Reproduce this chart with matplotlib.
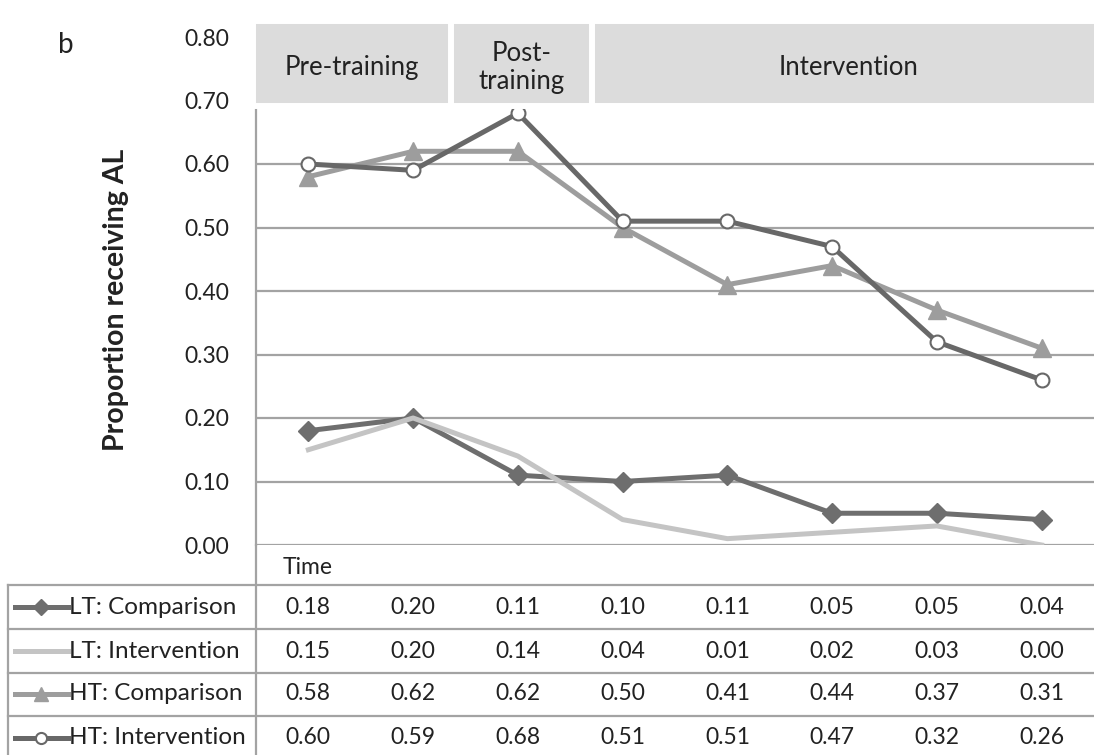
import matplotlib
matplotlib.use("Agg")
import matplotlib.pyplot as plt
import matplotlib.transforms as mtransforms
from matplotlib.lines import Line2D
from matplotlib.patches import Rectangle

plt.rcParams['font.family'] = ['Lato', 'DejaVu Sans']

time_points = list(range(8))
lt_comparison = [0.18, 0.20, 0.11, 0.10, 0.11, 0.05, 0.05, 0.04]
lt_intervention = [0.15, 0.20, 0.14, 0.04, 0.01, 0.02, 0.03, 0.00]
ht_comparison = [0.58, 0.62, 0.62, 0.50, 0.41, 0.44, 0.37, 0.31]
ht_intervention = [0.60, 0.59, 0.68, 0.51, 0.51, 0.47, 0.32, 0.26]
series_names = ['LT: Comparison', 'LT: Intervention', 'HT: Comparison', 'HT: Intervention']
phases = ['Pre-training', 'Post-\ntraining', 'Intervention']
y_ticks = [0.0, 0.1, 0.2, 0.3, 0.4, 0.5, 0.6, 0.7, 0.8]

W, H = 1094, 755
fig = plt.figure(figsize=(W / 100, H / 100), dpi=100)
ax = fig.add_axes([256 / W, 1 - 545 / H, 1 - 256 / W, (545 - 37) / H])

txt_c = '#222222'
grid_c = '#a3a3a3'

# line styles for the four series
styles = [
    dict(color='#6e6e6e', marker='D', markersize=10, markerfacecolor='#6e6e6e', markeredgecolor='#6e6e6e'),
    dict(color='#c4c4c4', marker=None),
    dict(color='#9d9d9d', marker='^', markersize=13, markerfacecolor='#9d9d9d', markeredgecolor='#9d9d9d'),
    dict(color='#686868', marker='o', markersize=10, markerfacecolor='white', markeredgecolor='#686868',
         markeredgewidth=1.5),
]
all_series = [lt_comparison, lt_intervention, ht_comparison, ht_intervention]

for vals, st in zip(all_series, styles):
    ax.plot(time_points, vals, linewidth=3.6, zorder=3, **st)

ax.set_xlim(-0.5, 7.5)
ax.set_ylim(0, 0.8)
ax.set_yticks(y_ticks)
ax.set_yticklabels([f'{v:.2f}' for v in y_ticks], fontsize=16.5, color=txt_c)
ax.tick_params(axis='y', length=0, pad=19)
ax.set_xticks([])
ax.yaxis.grid(True, color=grid_c, linewidth=1.6)
ax.set_axisbelow(True)
for s in ['top', 'right', 'bottom']:
    ax.spines[s].set_visible(False)
ax.spines['left'].set_color(grid_c)
ax.spines['left'].set_linewidth(1.6)

fig.text(116 / W, 1 - 300 / H, 'Proportion receiving AL', fontsize=20.5, fontweight='bold',
         rotation=90, ha='center', va='center', color=txt_c)

# phase header boxes
spans = [(-0.53, 1.357), (1.357, 2.712), (2.712, 7.6)]
for (x0, x1), name in zip(spans, phases):
    ax.add_patch(Rectangle((x0, 0.691), x1 - x0, 0.134, facecolor='#dcdcdc', edgecolor='white',
                           linewidth=4.3, clip_on=False, zorder=5))
    ax.text((x0 + x1) / 2, 0.752, name, ha='center', va='center', fontsize=18.5,
            color=txt_c, zorder=6, linespacing=1.15)

fig.text(66 / W, 1 - 45 / H, 'b', fontsize=20, ha='center', va='center', color=txt_c)

# data table below the plot
trans = mtransforms.blended_transform_factory(ax.transData, fig.transFigure)

def fy(py):
    return 1 - py / H

fig.add_artist(Line2D([256 / W, 256 / W], [fy(545), 0], color=grid_c, linewidth=1.6))
fig.add_artist(Line2D([8 / W, 8 / W], [fy(585), 0], color=grid_c, linewidth=1.6))
for py in [585, 629, 673, 716]:
    fig.add_artist(Line2D([8 / W, 1], [fy(py), fy(py)], color=grid_c, linewidth=1.6))

fig.text(283 / W, fy(568), 'Time', fontsize=16.5, va='center', ha='left', color=txt_c)

row_y = [607, 651, 694, 738]
for vals, name, st, py in zip(all_series, series_names, styles, row_y):
    key = dict(st)
    if key.get('markersize'):
        key['markersize'] = key['markersize'] * 0.8
    fig.add_artist(Line2D([15 / W, 68 / W], [fy(py), fy(py)], linewidth=3.6,
                          **{k: v for k, v in key.items() if k != 'marker'}))
    if key.get('marker'):
        fig.add_artist(Line2D([41 / W], [fy(py)], linestyle='none', **key))
    fig.text(69 / W, fy(py), name, fontsize=17.5, va='center', ha='left', color=txt_c)
    for x, v in zip(time_points, vals):
        ax.text(x, fy(py), f'{v:.2f}', transform=trans, fontsize=16.5, ha='center', va='center',
                color=txt_c)

fig.savefig('out.png', dpi=100)
